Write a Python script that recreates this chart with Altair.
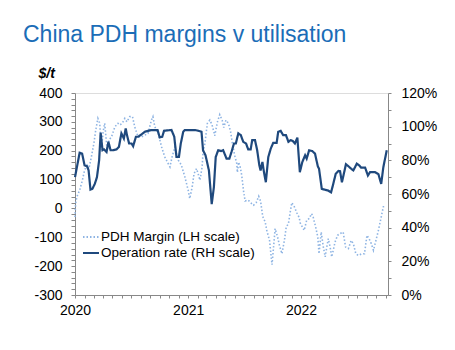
import altair as alt
import pandas as pd

rate_dates = [
    "2020-01-01", "2020-01-16", "2020-01-24", "2020-02-01", "2020-02-09", "2020-02-14", "2020-02-20",
    "2020-02-26", "2020-03-05", "2020-03-12", "2020-03-19", "2020-03-24", "2020-03-30", "2020-04-04",
    "2020-04-12", "2020-04-18", "2020-04-25", "2020-05-03", "2020-05-14", "2020-05-22", "2020-05-30",
    "2020-06-07", "2020-06-13", "2020-06-17", "2020-06-24", "2020-07-02", "2020-07-07", "2020-07-16",
    "2020-07-23", "2020-07-31", "2020-08-14", "2020-09-04", "2020-09-24", "2020-10-01", "2020-10-09",
    "2020-10-15", "2020-11-08", "2020-11-17", "2020-11-24", "2020-12-02", "2020-12-08", "2020-12-16",
    "2020-12-21", "2021-01-23", "2021-02-02", "2021-02-13", "2021-02-18", "2021-02-26", "2021-03-09",
    "2021-03-18", "2021-03-25", "2021-03-31", "2021-04-08", "2021-04-17", "2021-04-24", "2021-05-05",
    "2021-05-14", "2021-05-21", "2021-05-29", "2021-06-04", "2021-06-12", "2021-06-20", "2021-06-28",
    "2021-07-07", "2021-07-14", "2021-07-22", "2021-07-27", "2021-08-05", "2021-08-12", "2021-08-19",
    "2021-08-23", "2021-08-29", "2021-09-03", "2021-09-09", "2021-09-17", "2021-09-25", "2021-10-03",
    "2021-10-14", "2021-10-19", "2021-10-27", "2021-11-04", "2021-11-13", "2021-11-21", "2021-11-28",
    "2021-12-05", "2021-12-12", "2021-12-20", "2021-12-28", "2022-01-05", "2022-01-14", "2022-01-19",
    "2022-01-27", "2022-02-06", "2022-02-15", "2022-02-24", "2022-02-28", "2022-03-09", "2022-03-20",
    "2022-03-30", "2022-04-08", "2022-04-15", "2022-04-23", "2022-05-02", "2022-05-07", "2022-05-13",
    "2022-05-18", "2022-05-26", "2022-06-03", "2022-06-12", "2022-06-19", "2022-06-30", "2022-07-08",
    "2022-07-14", "2022-07-27", "2022-08-05", "2022-08-12", "2022-08-28", "2022-09-08", "2022-09-17",
    "2022-09-24", "2022-10-05",
]
rate_values = [
    70, 84.5, 84, 77, 76.5, 74, 62.6,
    63, 66, 70, 80, 96.4, 86, 86.5,
    85, 91, 86, 86, 86.5, 88, 96,
    93, 99, 95, 90, 90, 88.4, 94,
    94, 95, 97, 98, 98, 93.6, 94,
    97.6, 98, 94, 82, 82, 90, 97,
    98, 98, 97.6, 97, 86, 83, 74,
    54, 64, 82, 86, 85.5, 86, 81,
    81, 85, 90, 90, 96, 95, 91,
    90, 86.5, 86.5, 92, 92, 86, 77,
    74, 79, 73, 67, 82, 87, 90.4,
    90.4, 97, 97.5, 95, 95, 91, 92,
    91.5, 90, 93.5, 73, 79, 83, 81,
    86, 85.5, 84, 76.5, 75, 63, 62.5,
    62, 61, 66, 72, 73.7, 73.5, 67,
    71, 77.7, 76.5, 75, 74, 78, 77,
    75.7, 75.7, 71, 73, 73, 71.8, 66,
    76, 86,
]

margin_dates = [
    "2020-01-01", "2020-01-03", "2020-01-07", "2020-01-16", "2020-01-25", "2020-02-01", "2020-02-09",
    "2020-02-15", "2020-02-23", "2020-03-02", "2020-03-08", "2020-03-15", "2020-03-21", "2020-03-26",
    "2020-04-01", "2020-04-06", "2020-04-14", "2020-04-20", "2020-04-28", "2020-05-09", "2020-05-19",
    "2020-05-25", "2020-06-02", "2020-06-10", "2020-06-17", "2020-06-26", "2020-07-05", "2020-07-12",
    "2020-07-23", "2020-08-03", "2020-08-14", "2020-08-24", "2020-09-04", "2020-09-09", "2020-09-15",
    "2020-09-26", "2020-10-07", "2020-10-17", "2020-10-28", "2020-11-03", "2020-11-10", "2020-11-19",
    "2020-11-24", "2020-11-30", "2020-12-10", "2020-12-21", "2021-01-01", "2021-01-06", "2021-01-14",
    "2021-01-20", "2021-01-28", "2021-02-02", "2021-02-08", "2021-02-15", "2021-02-18", "2021-02-24",
    "2021-03-04", "2021-03-12", "2021-03-19", "2021-03-28", "2021-04-05", "2021-04-13", "2021-04-21",
    "2021-04-26", "2021-05-03", "2021-05-11", "2021-05-18", "2021-05-24", "2021-05-31", "2021-06-07",
    "2021-06-09", "2021-06-13", "2021-06-18", "2021-06-23", "2021-06-29", "2021-07-04", "2021-07-14",
    "2021-07-22", "2021-07-31", "2021-08-09", "2021-08-17", "2021-08-23", "2021-08-30", "2021-09-07",
    "2021-09-12", "2021-09-21", "2021-09-29", "2021-10-04", "2021-10-09", "2021-10-17", "2021-10-23",
    "2021-10-31", "2021-11-08", "2021-11-14", "2021-11-21", "2021-11-27", "2021-12-02", "2021-12-10",
    "2021-12-18", "2021-12-26", "2021-12-29", "2022-01-05", "2022-01-11", "2022-01-19", "2022-01-27",
    "2022-02-04", "2022-02-09", "2022-02-17", "2022-02-24", "2022-02-28", "2022-03-07", "2022-03-14",
    "2022-03-20", "2022-03-25", "2022-03-30", "2022-04-05", "2022-04-10", "2022-04-15", "2022-04-21",
    "2022-04-29", "2022-05-07", "2022-05-17", "2022-05-25", "2022-06-03", "2022-06-12", "2022-06-19",
    "2022-06-27", "2022-07-05", "2022-07-16", "2022-07-25", "2022-08-02", "2022-08-09", "2022-08-16",
    "2022-08-23", "2022-08-31", "2022-09-08", "2022-09-17", "2022-09-24", "2022-10-02",
]
margin_values = [
    -30, 17, 40, 63, 98, 133, 150,
    138, 179, 225, 271, 312, 295, 202,
    266, 295, 202, 237, 248, 283, 295,
    289, 295, 312, 300, 318, 318, 283,
    248, 248, 254, 260, 306, 318, 283,
    260, 213, 179, 156, 144, 179, 213,
    190, 167, 150, 110, 63, 34, 75,
    121, 138, 121, 98, 144, 196, 225,
    295, 306, 290, 252, 298, 325, 305,
    280, 306, 295, 266, 225, 185, 156,
    125, 160, 144, 115, 60, 26, 29,
    20, 11, 20, 42, 25, -28, -47,
    -76, -111, -195, -134, -70, -99, -128,
    -157, -111, -64, -53, -12, 20, 6,
    -15, -32, -50, -64, -76, -41, -35,
    -18, -30, -64, -99, -157, -82, -134,
    -168, -134, -105, -134, -168, -145, -116,
    -93, -87, -82, -134, -139, -111, -122,
    -157, -163, -157, -157, -93, -105, -122,
    -145, -111, -76, -30, 6, 6,
]

series_names = ["PDH Margin (LH scale)", "Operation rate (RH scale)"]
series_colors = ["#8EB4E3", "#1F497D"]
series_dashes = [[1.5, 2], [1, 0]]

title_text = "China PDH margins v utilisation"
left_unit = "$/t"

FONT = "Liberation Sans"
TICK_FS = 14

df_m = pd.DataFrame({"date": margin_dates, "value": margin_values})
df_m["series"] = series_names[0]
df_r = pd.DataFrame({"date": rate_dates, "value": rate_values})
df_r["series"] = series_names[1]

month_ticks = [
    alt.DateTime(year=y, month=m, date=1, utc=True)
    for y in (2020, 2021, 2022)
    for m in range(1, 13)
    if not (y == 2022 and m > 10)
]

x_enc = alt.X(
    "date:T",
    scale=alt.Scale(
        type="utc",
        domain=[
            alt.DateTime(year=2020, month=1, date=1, utc=True),
            alt.DateTime(year=2022, month=10, date=9, utc=True),
        ],
        nice=False,
    ),
    axis=alt.Axis(
        values=month_ticks,
        labelExpr="utcmonth(datum.value) == 0 ? utcFormat(datum.value, '%Y') : ''",
        title=None,
        tickSize=3,
        labelPadding=5,
        grid=False,
        labelOverlap=False,
        labelFlush=False,
        labelFont=FONT,
        labelFontSize=TICK_FS,
        labelColor="black",
    ),
)

legend_params = dict(
    title=None,
    orient="none",
    legendX=7,
    legendY=135,
    symbolType="stroke",
    symbolSize=256,
    symbolStrokeWidth=2,
    labelFontSize=13.5,
    labelFont=FONT,
    labelColor="black",
    labelOffset=1,
    rowPadding=0,
    padding=0,
)

color_enc = alt.Color(
    "series:N",
    scale=alt.Scale(domain=series_names, range=series_colors),
    legend=alt.Legend(**legend_params),
)
dash_enc = alt.StrokeDash(
    "series:N",
    scale=alt.Scale(domain=series_names, range=series_dashes),
    legend=alt.Legend(**legend_params),
)

margin_layer = alt.Chart(df_m).mark_line(strokeWidth=1.6).encode(
    x=x_enc,
    y=alt.Y(
        "value:Q",
        scale=alt.Scale(domain=[-300, 400], nice=False, zero=False),
        axis=alt.Axis(
            orient="left",
            values=list(range(-300, 401, 20)),
            labelExpr="datum.value % 100 == 0 ? '' + datum.value : ''",
            labelOverlap=False,
            labelFont=FONT,
            labelFontSize=TICK_FS,
            labelColor="black",
            title=left_unit,
            titleAngle=0,
            titleX=-37,
            titleY=-16,
            titleAlign="left",
            titleBaseline="alphabetic",
            titleFontStyle="italic",
            titleFontWeight="bold",
            titleFontSize=14,
            titleFont=FONT,
            titleColor="black",
            tickSize=4,
            labelPadding=9,
            grid=False,
        ),
    ),
    color=color_enc,
    strokeDash=dash_enc,
)

rate_layer = alt.Chart(df_r).mark_line(strokeWidth=2.2).encode(
    x=x_enc,
    y=alt.Y(
        "value:Q",
        scale=alt.Scale(domain=[0, 120], nice=False, zero=False),
        axis=alt.Axis(
            orient="right",
            values=list(range(0, 121, 10)),
            labelExpr="datum.value % 20 == 0 ? datum.value + '%' : ''",
            labelOverlap=False,
            labelFont=FONT,
            labelFontSize=TICK_FS,
            labelColor="black",
            title=None,
            tickSize=3,
            labelPadding=10,
            grid=False,
        ),
    ),
    color=color_enc,
    strokeDash=dash_enc,
)

chart = (
    alt.layer(margin_layer, rate_layer)
    .resolve_scale(y="independent")
    .properties(
        width=313,
        height=202,
        autosize=alt.AutoSizeParams(type="none"),
        padding={"left": 75, "top": 93, "right": 67, "bottom": 55},
        title=alt.TitleParams(
            title_text,
            anchor="start",
            frame="group",
            dx=-52,
            offset=1,
            baseline="alphabetic",
            font=FONT,
            fontSize=23,
            fontWeight="normal",
            color="#1B6DB7",
        ),
    )
    .configure_view(stroke=None)
    .configure_axis(
        domainColor="black",
        tickColor="black",
        domainWidth=1,
        tickWidth=1,
    )
    .configure(background="white")
)

chart.save("out.html", embed_options={"renderer": "svg", "actions": False})
